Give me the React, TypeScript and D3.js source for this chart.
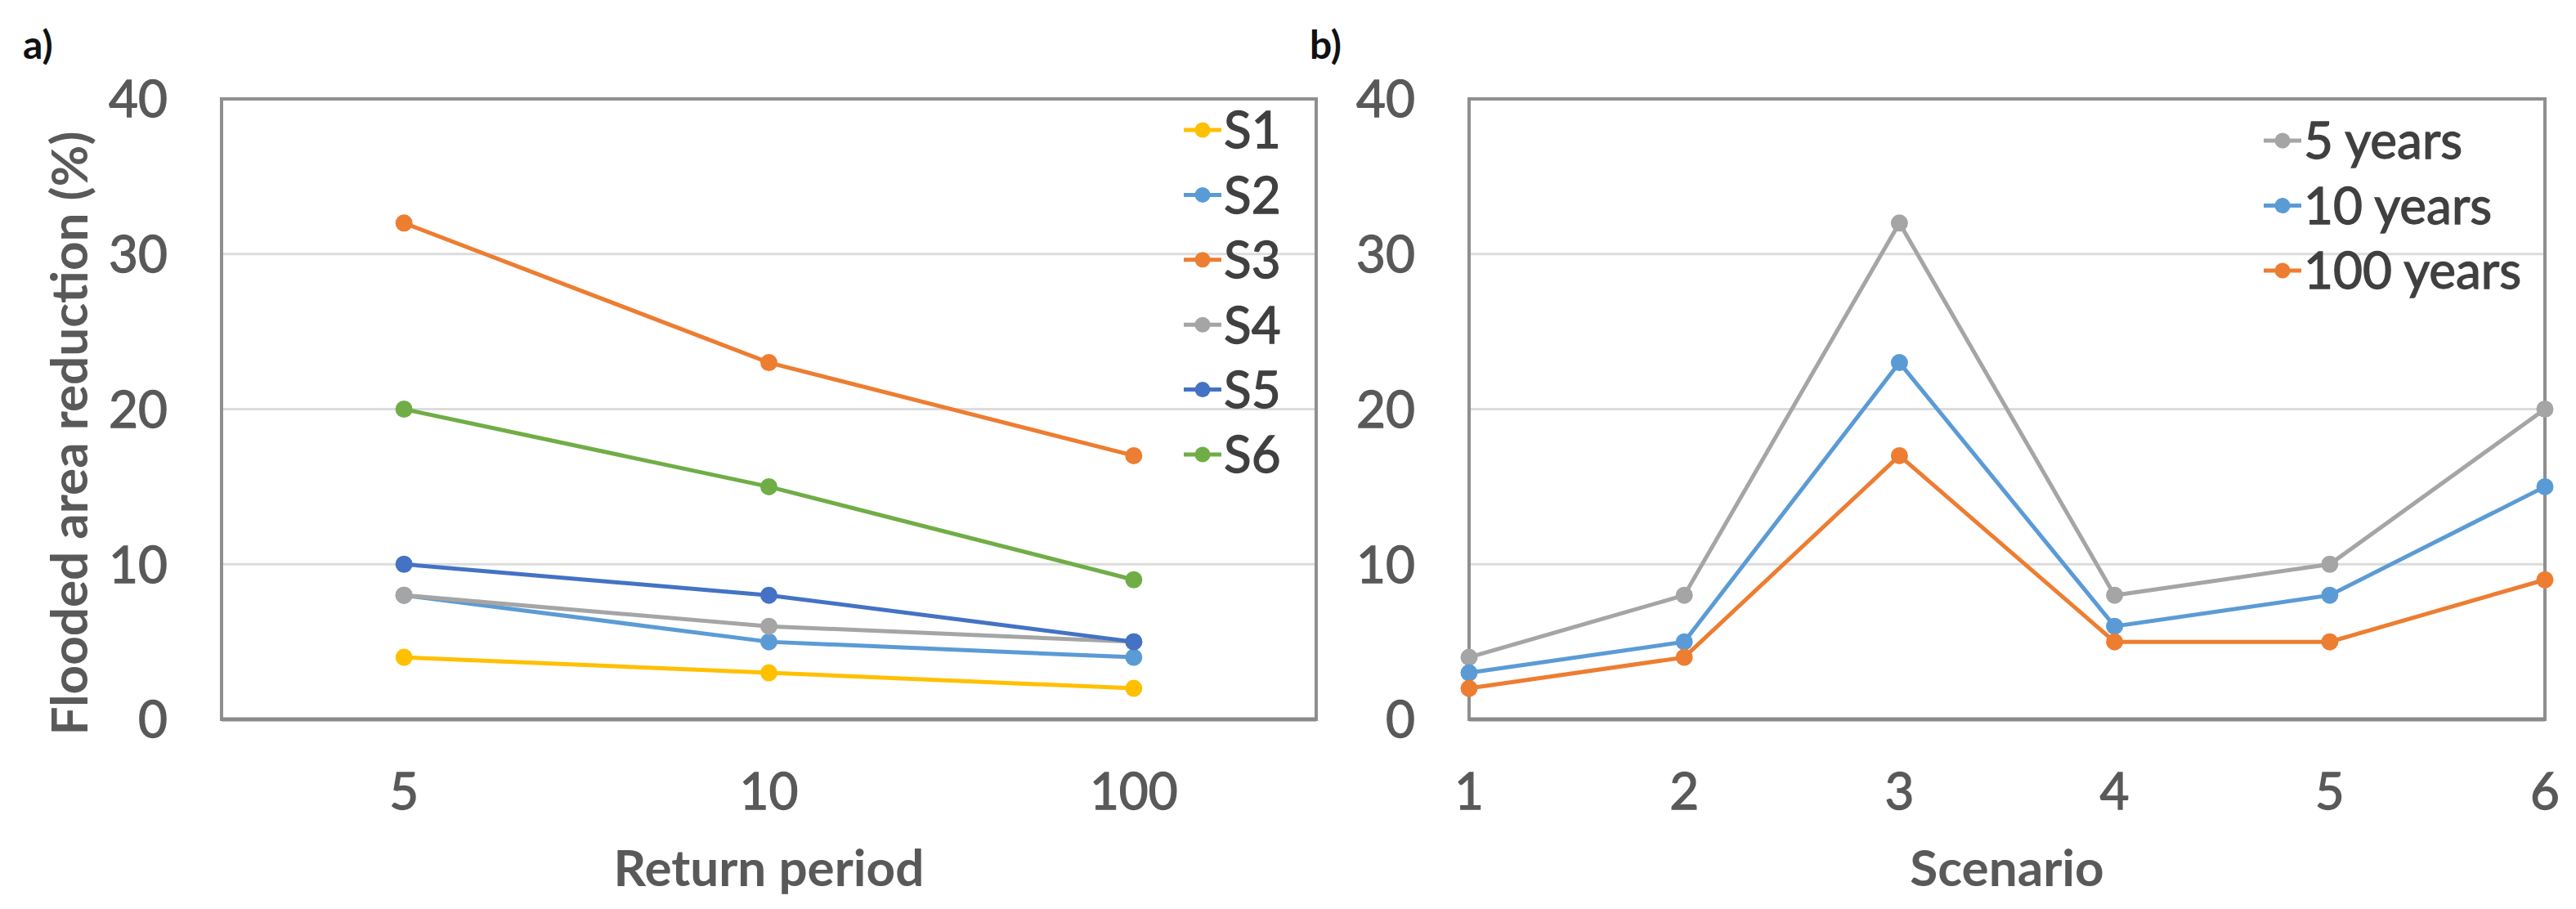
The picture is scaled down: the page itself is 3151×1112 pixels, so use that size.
import React, { useEffect, useRef } from 'react';
import * as d3 from 'd3';

// panel a: x = return period, one line per scenario
const returnPeriods = ['5', '10', '100'];
const scenarioNames = ['S1', 'S2', 'S3', 'S4', 'S5', 'S6'];
const S1 = [4, 3, 2];
const S2 = [8, 5, 4];
const S3 = [32, 23, 17];
const S4 = [8, 6, 5];
const S5 = [10, 8, 5];
const S6 = [20, 15, 9];
const scenarioColors = ['#FFC000', '#5B9BD5', '#ED7D31', '#A5A5A5', '#4472C4', '#70AD47'];

// panel b: x = scenario, one line per return period
const scenarioNumbers = [1, 2, 3, 4, 5, 6];
const periodNames = ['5 years', '10 years', '100 years'];
const years5 = [4, 8, 32, 8, 10, 20];
const years10 = [3, 5, 23, 6, 8, 15];
const years100 = [2, 4, 17, 5, 5, 9];
const periodColors = ['#A5A5A5', '#5B9BD5', '#ED7D31'];

const yTicks = [0, 10, 20, 30, 40];

const W = 3151;
const H = 1112;
const FONT = 'Lato, "Open Sans", sans-serif';

type Series = { name: string; values: number[]; color: string };

const App: React.FC = () => {
  const svgRef = useRef<SVGSVGElement | null>(null);

  useEffect(() => {
    if (!svgRef.current) return;
    const svg = d3.select(svgRef.current);
    svg.selectAll('*').remove();

    const top = 121;
    const bottom = 880;
    const y = d3.scaleLinear().domain([0, 40]).range([bottom, top]);

    // regular text in the reference is a little heavier than Lato regular
    const heavy = (sel: d3.Selection<any, any, any, any>, color: string) =>
      sel.attr('fill', color).attr('stroke', color).attr('stroke-width', 1.3);

    const drawFrame = (left: number, right: number) => {
      const g = svg.append('g');
      g.selectAll('line.grid')
        .data(yTicks.filter(t => t > 0 && t < 40))
        .join('line')
        .attr('x1', left).attr('x2', right)
        .attr('y1', d => y(d)).attr('y2', d => y(d))
        .attr('stroke', '#dcdcdc').attr('stroke-width', 3);
      g.append('rect')
        .attr('x', left).attr('y', top)
        .attr('width', right - left).attr('height', bottom - top)
        .attr('fill', 'none').attr('stroke', '#8f8f8f').attr('stroke-width', 4);
      g.append('line')
        .attr('x1', left).attr('x2', right)
        .attr('y1', bottom).attr('y2', bottom)
        .attr('stroke', '#8a8a8a').attr('stroke-width', 5);
      const ticks = g.selectAll('text.ytick')
        .data(yTicks)
        .join('text')
        .attr('x', left - 66)
        .attr('y', d => y(d))
        .attr('dy', '0.36em')
        .attr('text-anchor', 'end')
        .attr('font-family', FONT)
        .attr('font-size', 62)
        .text(d => d);
      heavy(ticks, '#595959');
    };

    const drawLines = (series: Series[], xs: number[]) => {
      const line = d3.line<number>()
        .x((_, i) => xs[i])
        .y(d => y(d));
      series.forEach(s => {
        const g = svg.append('g');
        g.append('path')
          .attr('d', line(s.values))
          .attr('fill', 'none')
          .attr('stroke', s.color)
          .attr('stroke-width', 5);
        g.selectAll('circle')
          .data(s.values)
          .join('circle')
          .attr('cx', (_, i) => xs[i])
          .attr('cy', d => y(d))
          .attr('r', 10.5)
          .attr('fill', s.color);
      });
    };

    const drawLegend = (series: Series[], cx: number, y0: number, step: number) => {
      series.forEach((s, i) => {
        const ly = y0 + i * step;
        svg.append('line')
          .attr('x1', cx - 23).attr('x2', cx + 23)
          .attr('y1', ly).attr('y2', ly)
          .attr('stroke', s.color).attr('stroke-width', 5);
        svg.append('circle')
          .attr('cx', cx).attr('cy', ly).attr('r', 9.5)
          .attr('fill', s.color);
        const t = svg.append('text')
          .attr('x', cx + 26).attr('y', ly)
          .attr('dy', '0.36em')
          .attr('font-family', FONT)
          .attr('font-size', 62)
          .text(s.name);
        heavy(t, '#404040');
      });
    };

    const label = (txt: string, x: number, yy: number, opts: { size?: number; anchor?: string; color?: string; rotate?: boolean } = {}) => {
      svg.append('text')
        .attr('transform', `translate(${x},${yy})${opts.rotate ? ' rotate(-90)' : ''}`)
        .attr('text-anchor', opts.anchor ?? 'middle')
        .attr('font-family', FONT)
        .attr('font-weight', 'bold')
        .attr('font-size', opts.size ?? 62)
        .attr('fill', opts.color ?? '#595959')
        .text(txt);
    };

    // ---- panel a ----
    const aLeft = 271, aRight = 1610;
    const xa = d3.scalePoint<string>().domain(returnPeriods).range([aLeft, aRight]).padding(0.5);
    drawFrame(aLeft, aRight);
    const seriesA: Series[] = [S1, S2, S3, S4, S5, S6].map((v, i) => ({
      name: scenarioNames[i], values: v, color: scenarioColors[i],
    }));
    drawLines(seriesA, returnPeriods.map(p => xa(p) as number));
    const xtA = svg.append('g').selectAll('text')
      .data(returnPeriods)
      .join('text')
      .attr('x', d => xa(d) as number)
      .attr('y', 990)
      .attr('text-anchor', 'middle')
      .attr('font-family', FONT)
      .attr('font-size', 62)
      .text(d => d);
    heavy(xtA, '#595959');
    drawLegend(seriesA, 1471, 159, 79.4);
    label('Return period', (aLeft + aRight) / 2, 1084);
    label('Flooded area reduction (%)', 107, 530, { rotate: true });
    label('a)', 28, 72, { size: 48, anchor: 'start', color: '#111' });

    // ---- panel b ----
    const bLeft = 1797, bRight = 3113;
    const xb = d3.scaleLinear().domain([1, 6]).range([bLeft, bRight]);
    drawFrame(bLeft, bRight);
    const seriesB: Series[] = [years5, years10, years100].map((v, i) => ({
      name: periodNames[i], values: v, color: periodColors[i],
    }));
    drawLines(seriesB, scenarioNumbers.map(n => xb(n)));
    const xtB = svg.append('g').selectAll('text')
      .data(scenarioNumbers)
      .join('text')
      .attr('x', d => xb(d))
      .attr('y', 990)
      .attr('text-anchor', 'middle')
      .attr('font-family', FONT)
      .attr('font-size', 62)
      .text(d => d);
    heavy(xtB, '#595959');
    drawLegend(seriesB, 2792, 172, 79.5);
    label('Scenario', (bLeft + bRight) / 2, 1084);
    label('b)', 1602, 72, { size: 48, anchor: 'start', color: '#111' });
  }, []);

  return (
    <svg
      ref={svgRef}
      width={W}
      height={H}
      style={{ position: 'absolute', left: 0, top: 0, background: '#fff' }}
    />
  );
};

export default App;
